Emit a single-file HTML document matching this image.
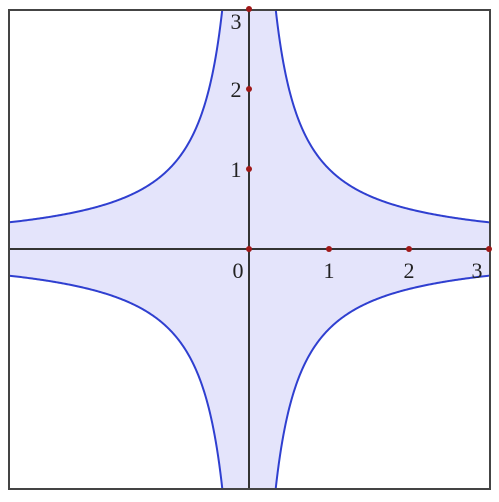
<!DOCTYPE html>
<html><head><meta charset="utf-8"><style>
body{margin:0;background:#fff;width:499px;height:497px;overflow:hidden}
text{font-family:"Liberation Serif",serif;font-size:22px;fill:#222}
</style></head><body>
<svg width="499" height="497">
<defs><clipPath id="c"><rect x="9" y="10" width="481" height="479"/></clipPath></defs>
<path id="region" fill="#e4e4fb" stroke="none" clip-path="url(#c)"/>
<g id="curves" clip-path="url(#c)"></g>
<line x1="9" y1="249" x2="490" y2="249" stroke="#333" stroke-width="2"/>
<line x1="249" y1="10" x2="249" y2="489" stroke="#333" stroke-width="2"/>
<rect x="9" y="10" width="481" height="479" fill="none" stroke="#444" stroke-width="2"/>
<g id="pts"></g>
</svg>
<script>
const xTicks=[1,2,3];
const yTicks=[1,2,3];
const kValue=1;
const X=v=>249+v*80, Y=v=>249-v*80;
const ns="http://www.w3.org/2000/svg";
function branch(sx,sy){let p=[];for(let i=0;i<=200;i++){const x=0.3+i*(3.2-0.3)/200;p.push([X(sx*x),Y(sy*kValue/x)]);}return p;}
const br=[branch(1,1),branch(-1,1),branch(-1,-1),branch(1,-1)];
const g=document.getElementById('curves');
br.forEach((p,i)=>{const e=document.createElementNS(ns,'path');
e.setAttribute('d','M'+p.map(q=>q.join(',')).join('L'));
e.setAttribute('fill','none');e.setAttribute('stroke','#2f3fd0');e.setAttribute('stroke-width','2');


g.appendChild(e);});
// region: |xy|<=k
const q1=br[0],q2=br[1].slice().reverse(),q3=br[2],q4=br[3].slice().reverse();
let d='M'+q1.map(q=>q.join(',')).join('L')+'L'+X(3.2)+','+Y(-kValue/3.2)+'L'+q4.slice().reverse().map(q=>q.join(',')).join('L');
// build closed star shape
const all=[...br[0].slice().reverse(),...br[1],...br[1].length?[]:[]];
const poly=[];
br[0].slice().reverse().forEach(q=>poly.push(q)); // top-right from far-right to top
br[1].forEach(q=>poly.push(q)); // top-left from top to far-left
br[2].slice().reverse().forEach(q=>poly.push(q)); // bottom-left far-left to bottom
br[3].forEach(q=>poly.push(q)); // bottom-right bottom to far-right
document.getElementById('region').setAttribute('d','M'+poly.map(q=>q.join(',')).join('L')+'Z');
const pg=document.getElementById('pts');
function dot(x,y){const c=document.createElementNS(ns,'circle');c.setAttribute('cx',x);c.setAttribute('cy',y);c.setAttribute('r',3);c.setAttribute('fill','#a01818');


pg.appendChild(c);}
function txt(x,y,s,n){const t=document.createElementNS(ns,'text');t.setAttribute('x',x);t.setAttribute('y',y);t.setAttribute('text-anchor','middle');t.textContent=s;


pg.appendChild(t);}
dot(249,249);txt(238,278,'0','origin-label');
xTicks.forEach(v=>{dot(X(v),249);txt(X(v)-(v===3?12:0),278,String(v),'x-tick-label');});
yTicks.forEach(v=>{dot(249,Y(v));txt(236,Y(v)+8+(v===3?12:0),String(v),'y-tick-label');});
</script>
</body></html>
